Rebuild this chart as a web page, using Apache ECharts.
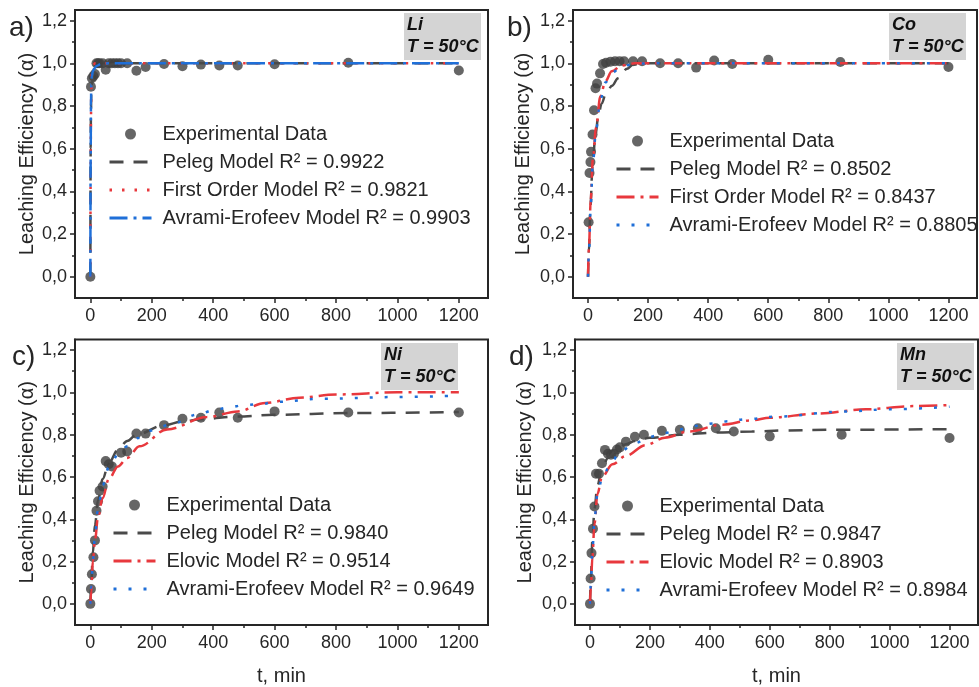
<!DOCTYPE html>
<html><head><meta charset="utf-8">
<script src="https://cdn.jsdelivr.net/npm/echarts@6/dist/echarts.min.js"></script>
<style>html,body{margin:0;padding:0;background:#fff}#c{width:979px;height:687px}</style>
</head><body><div id="c"></div>
<script>
// ---------- tick labels ----------
const xTicks = [0, 200, 400, 600, 800, 1000, 1200];
const xMinor = [100, 300, 500, 700, 900, 1100];
const yTicks = [0, 0.2, 0.4, 0.6, 0.8, 1.0, 1.2];
const yMinor = [0.1, 0.3, 0.5, 0.7, 0.9, 1.1];

// ---------- a) Li ----------
const liT = [0, 2, 5, 10, 15, 20, 25, 30, 40, 50, 60, 70, 80, 90, 100, 120, 150, 180, 240, 300, 360, 420, 480, 600, 840, 1200];
const liV = [0, 0.89, 0.93, 0.94, 0.95, 1.0, 1.0, 1.0, 1.0, 0.97, 1.0, 1.0, 1.0, 1.0, 1.0, 1.0, 0.965, 0.983, 0.997, 0.986, 0.994, 0.99, 0.99, 0.996, 1.003, 0.966];
const liPelegT = [0, 1, 2, 3, 5, 10, 20, 40, 100, 1200];
const liPelegV = [0, 0.6, 0.78, 0.85, 0.9, 0.95, 0.975, 0.99, 1.0, 1.0];
const liFirstT = [0, 1, 2, 3, 5, 8, 15, 30, 1200];
const liFirstV = [0, 0.5, 0.75, 0.87, 0.96, 0.99, 1.0, 1.0, 1.0];
const liAvramiT = [0, 1, 2, 3, 5, 8, 12, 20, 35, 60, 1200];
const liAvramiV = [0, 0.55, 0.8, 0.9, 0.94, 0.962, 0.975, 0.988, 0.997, 1.0, 1.0];

// ---------- b) Co ----------
const coT = [2, 5, 8, 10, 15, 20, 25, 30, 40, 50, 60, 75, 90, 105, 120, 150, 180, 240, 300, 360, 420, 480, 600, 840, 1200];
const coV = [0.255, 0.486, 0.537, 0.585, 0.666, 0.78, 0.883, 0.905, 0.953, 0.997, 1.003, 1.008, 1.01, 1.01, 1.01, 1.01, 1.01, 1.0, 1.0, 0.98, 1.013, 0.997, 1.017, 1.006, 0.983];
const coPelegT = [0, 3, 8, 15, 25, 35, 45, 60, 80, 100, 130, 150, 200, 1200];
const coPelegV = [0, 0.12, 0.33, 0.52, 0.67, 0.76, 0.81, 0.86, 0.895, 0.93, 0.975, 0.995, 1.0, 1.0];
const coFirstT = [0, 3, 9, 16, 27, 41, 58, 79, 112, 156, 200, 1200];
const coFirstV = [0, 0.13, 0.36, 0.55, 0.70, 0.845, 0.916, 0.963, 0.99, 1.0, 1.0, 1.0];
const coAvramiT = [0, 3, 9, 16, 27, 41, 58, 79, 112, 156, 200, 1200];
const coAvramiV = [0, 0.11, 0.33, 0.53, 0.69, 0.83, 0.91, 0.955, 0.985, 0.998, 1.0, 1.0];

// ---------- c) Ni ----------
const niT = [0, 2, 5, 10, 15, 20, 25, 30, 40, 50, 60, 70, 100, 120, 150, 180, 240, 300, 360, 420, 480, 600, 840, 1200];
const niV = [0, 0.07, 0.14, 0.22, 0.30, 0.44, 0.485, 0.535, 0.555, 0.675, 0.66, 0.65, 0.715, 0.72, 0.805, 0.805, 0.845, 0.875, 0.88, 0.905, 0.88, 0.91, 0.905, 0.905];
const niPelegT = [0, 3, 8, 15, 25, 40, 60, 90, 120, 150, 240, 300, 360, 480, 600, 840, 1200];
const niPelegV = [0, 0.1, 0.24, 0.37, 0.49, 0.59, 0.665, 0.73, 0.77, 0.80, 0.845, 0.862, 0.873, 0.886, 0.894, 0.902, 0.907];
const niElovicT = [0, 3, 8, 15, 25, 40, 60, 90, 120, 160, 250, 380, 480, 570, 680, 800, 1000, 1200];
const niElovicV = [0, 0.06, 0.2, 0.3, 0.41, 0.50, 0.59, 0.65, 0.69, 0.745, 0.825, 0.883, 0.91, 0.95, 0.975, 0.99, 1.0, 1.0];
const niAvramiT = [0, 3, 8, 15, 25, 40, 60, 90, 120, 155, 200, 258, 350, 400, 450, 500, 560, 600, 760, 1000, 1200];
const niAvramiV = [0, 0.08, 0.2, 0.32, 0.45, 0.56, 0.645, 0.705, 0.745, 0.784, 0.82, 0.847, 0.895, 0.915, 0.928, 0.94, 0.945, 0.955, 0.97, 0.978, 0.985];

// ---------- d) Mn ----------
const mnT = [0, 2, 5, 10, 15, 20, 30, 40, 50, 60, 70, 80, 90, 100, 120, 150, 180, 240, 300, 360, 420, 480, 600, 840, 1200];
const mnV = [0, 0.12, 0.24, 0.355, 0.46, 0.615, 0.615, 0.665, 0.728, 0.71, 0.705, 0.71, 0.73, 0.74, 0.767, 0.79, 0.80, 0.818, 0.823, 0.83, 0.83, 0.815, 0.792, 0.80, 0.784];
const mnPelegT = [0, 3, 8, 15, 25, 40, 60, 90, 120, 150, 200, 300, 420, 540, 650, 800, 1200];
const mnPelegV = [0, 0.12, 0.3, 0.45, 0.56, 0.64, 0.69, 0.73, 0.755, 0.77, 0.785, 0.80, 0.81, 0.815, 0.82, 0.823, 0.826];
const mnElovicT = [0, 3, 8, 15, 25, 40, 75, 120, 185, 250, 330, 440, 540, 600, 760, 920, 1080, 1200];
const mnElovicV = [0, 0.08, 0.22, 0.38, 0.52, 0.6, 0.66, 0.70, 0.75, 0.786, 0.815, 0.847, 0.868, 0.88, 0.90, 0.92, 0.935, 0.94];
const mnAvramiT = [0, 3, 8, 15, 25, 40, 65, 100, 150, 200, 250, 300, 360, 410, 460, 520, 620, 840, 1000, 1200];
const mnAvramiV = [0, 0.1, 0.25, 0.4, 0.52, 0.59, 0.65, 0.72, 0.76, 0.79, 0.808, 0.826, 0.842, 0.853, 0.863, 0.873, 0.885, 0.909, 0.92, 0.932];

// ---------- texts ----------
const panelLabels = ['a)', 'b)', 'c)', 'd)'];
const elements = ['Li', 'Co', 'Ni', 'Mn'];
const tempText = 'T = 50°C';
const expName = 'Experimental Data';
const modelNames = [
  ['Peleg Model R² = 0.9922', 'First Order Model R² = 0.9821', 'Avrami-Erofeev Model R² = 0.9903'],
  ['Peleg Model R² = 0.8502', 'First Order Model R² = 0.8437', 'Avrami-Erofeev Model R² = 0.8805'],
  ['Peleg Model R² = 0.9840', 'Elovic Model R² = 0.9514', 'Avrami-Erofeev Model R² = 0.9649'],
  ['Peleg Model R² = 0.9847', 'Elovic Model R² = 0.8903', 'Avrami-Erofeev Model R² = 0.8984']
];
const yName = 'Leaching Efficiency (α)';
const xName = 't, min';

// ---------- styles / layout ----------
const FONT = '"Liberation Sans", Arial, Helvetica, sans-serif';
const AX = '#262626';
const TXT = '#262626';
const GRAY = '#4a4a4a', RED = '#e8383d', BLUE = '#1f6fd8', MARK = '#404040';
const DASH = [14, 10], DOT = [2.5, 10], DASHDOT = [18, 6, 3, 6], BLUEDOT = [3, 12];

const layout = [
  {grid: {left: 75, top: 10, width: 413, height: 288}, label: [9, 14], box: [404, 13, 77, 47], legend: [108, 124], yGap: 38, xname: false},
  {grid: {left: 573, top: 10, width: 404, height: 288}, label: [507, 14], box: [889, 13, 77, 47], legend: [615, 131], yGap: 40, xname: false},
  {grid: {left: 75, top: 339.5, width: 413, height: 289}, label: [12, 343], box: [381, 343, 77, 47], legend: [112, 495], yGap: 38, xname: true},
  {grid: {left: 575, top: 339.5, width: 403, height: 289}, label: [509, 343], box: [897, 343, 77, 47], legend: [605, 496], yGap: 40, xname: true}
];

const expData = [[liT, liV], [coT, coV], [niT, niV], [mnT, mnV]];
const models = [
  [[liPelegT, liPelegV], [liFirstT, liFirstV], [liAvramiT, liAvramiV]],
  [[coPelegT, coPelegV], [coFirstT, coFirstV], [coAvramiT, coAvramiV]],
  [[niPelegT, niPelegV], [niElovicT, niElovicV], [niAvramiT, niAvramiV]],
  [[mnPelegT, mnPelegV], [mnElovicT, mnElovicV], [mnAvramiT, mnAvramiV]]
];
const modelStyles = [
  [[GRAY, DASH], [RED, DOT], [BLUE, DASHDOT]],
  [[GRAY, DASH], [RED, DASHDOT], [BLUE, BLUEDOT]],
  [[GRAY, DASH], [RED, DASHDOT], [BLUE, BLUEDOT]],
  [[GRAY, DASH], [RED, DASHDOT], [BLUE, BLUEDOT]]
];

const zip = (t, v) => t.map((x, i) => [x, v[i]]);
const fmtY = v => v.toFixed(1).replace('.', ',');
const fmtX = v => String(Math.round(v));

const grids = [], xAxes = [], yAxes = [], series = [], legends = [], graphics = [];
layout.forEach((L, i) => {
  grids.push(Object.assign({show: true, borderColor: AX, borderWidth: 2, backgroundColor: 'transparent'}, L.grid));
  const axLine = {show: true, onZero: false, lineStyle: {color: AX, width: 2}};
  xAxes.push({
    gridIndex: i, type: 'value', min: -50, max: 1295, position: 'bottom',
    axisLine: axLine,
    axisTick: {show: true, customValues: xTicks, length: 5, lineStyle: {color: AX, width: 1.5}},
    axisLabel: {customValues: xTicks, formatter: fmtX, fontSize: 18, fontFamily: FONT, color: TXT, margin: 9},
    splitLine: {show: false},
    name: L.xname ? xName : '', nameLocation: 'middle', nameGap: 41,
    nameTextStyle: {fontSize: 20, fontFamily: FONT, color: TXT}
  });
  xAxes.push({
    gridIndex: i, type: 'value', min: -50, max: 1295, position: 'bottom',
    axisLine: {show: false, onZero: false},
    axisTick: {show: true, customValues: xMinor, length: 3, lineStyle: {color: AX, width: 1.5}},
    axisLabel: {show: false}, splitLine: {show: false}
  });
  yAxes.push({
    gridIndex: i, type: 'value', min: -0.1, max: 1.25, position: 'left',
    axisLine: axLine,
    axisTick: {show: true, customValues: yTicks, length: 5, lineStyle: {color: AX, width: 1.5}},
    axisLabel: {customValues: yTicks, formatter: fmtY, fontSize: 18, fontFamily: FONT, color: TXT, margin: 8},
    splitLine: {show: false},
    name: yName, nameLocation: 'middle', nameGap: L.yGap, nameRotate: 90,
    nameTextStyle: {fontSize: 20, fontFamily: FONT, color: TXT}
  });
  yAxes.push({
    gridIndex: i, type: 'value', min: -0.1, max: 1.25, position: 'left',
    axisLine: {show: false, onZero: false},
    axisTick: {show: true, customValues: yMinor, length: 3, lineStyle: {color: AX, width: 1.5}},
    axisLabel: {show: false}, splitLine: {show: false}
  });
  const [et, ev] = expData[i];
  series.push({
    type: 'scatter', name: expName, xAxisIndex: 2 * i, yAxisIndex: 2 * i,
    data: zip(et, ev), symbol: 'circle', symbolSize: 10,
    itemStyle: {color: MARK}, z: 2
  });
  models[i].forEach((m, k) => {
    const [c, d] = modelStyles[i][k];
    series.push({
      type: 'line', name: modelNames[i][k], xAxisIndex: 2 * i, yAxisIndex: 2 * i,
      data: zip(m[0], m[1]), showSymbol: false, symbol: 'none',
      smooth: 0.35, smoothMonotone: 'x',
      lineStyle: {color: c, width: 2.5, type: d}, itemStyle: {color: c}, z: 3
    });
  });
  legends.push({
    orient: 'vertical', left: L.legend[0], top: L.legend[1], padding: 0,
    itemWidth: 42, itemHeight: 11, itemGap: 8,
    lineStyle: {width: 3},
    data: [{name: expName}].concat(modelNames[i].map(n => ({name: n, itemStyle: {opacity: 0, borderWidth: 0}}))),
    textStyle: {fontSize: 20, fontFamily: FONT, color: TXT, padding: [0, 0, 0, 6], lineHeight: 20},
    selectedMode: false
  });
  graphics.push({
    type: 'text', left: L.label[0], top: L.label[1],
    style: {text: panelLabels[i], fontSize: 28, fontFamily: FONT, fill: TXT}
  });
  const b = L.box;
  graphics.push({type: 'rect', shape: {x: b[0], y: b[1], width: b[2], height: b[3]}, style: {fill: '#d4d4d4'}, z: 10});
  graphics.push({type: 'text', x: b[0] + 3, y: b[1] + 12, style: {text: elements[i], fontSize: 18, fontWeight: 'bold', fontStyle: 'italic', fontFamily: FONT, fill: '#111', verticalAlign: 'middle'}, z: 11});
  graphics.push({type: 'text', x: b[0] + 3, y: b[1] + 34, style: {text: tempText, fontSize: 18, fontWeight: 'bold', fontStyle: 'italic', fontFamily: FONT, fill: '#111', verticalAlign: 'middle'}, z: 11});
});

const chart = echarts.init(document.getElementById('c'), null, {renderer: 'canvas'});
chart.setOption({
  animation: false,
  backgroundColor: '#fff',
  textStyle: {fontFamily: FONT},
  grid: grids, xAxis: xAxes, yAxis: yAxes, series: series, legend: legends,
  graphic: graphics
});
</script></body></html>
